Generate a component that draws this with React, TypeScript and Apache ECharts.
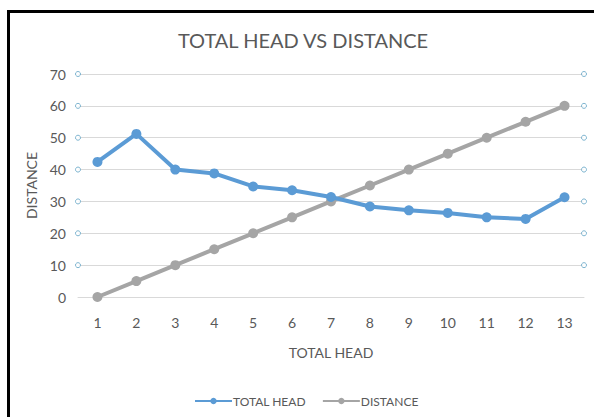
import React, { useEffect, useRef } from "react";
import * as echarts from "echarts";

const categories = ["1", "2", "3", "4", "5", "6", "7", "8", "9", "10", "11", "12", "13"];
const totalHead = [42.4, 51.2, 40.0, 38.8, 34.7, 33.5, 31.4, 28.4, 27.2, 26.4, 25.0, 24.5, 31.3];
const distance = [0, 5, 10, 15, 20, 25, 30, 35, 40, 45, 50, 55, 60];
const yTicks = [10, 20, 30, 40, 50, 60, 70];

const FONT = "Lato, 'Open Sans', sans-serif";
const TXT = "#595959";

export default function App() {
  const ref = useRef<HTMLDivElement>(null);
  useEffect(() => {
    if (!ref.current) return;
    const chart = echarts.init(ref.current, undefined, { renderer: "svg" });
    const endDots: number[][] = [];
    yTicks.forEach((v) => {
      endDots.push([0, v]);
      endDots.push([1, v]);
    });
    chart.setOption({
      animation: false,
      backgroundColor: "#ffffff",
      textStyle: { fontFamily: FONT },
      title: {
        text: "TOTAL HEAD VS DISTANCE",
        left: 298,
        textAlign: "center",
        top: 25,
        textStyle: { fontFamily: FONT, fontSize: 20, fontWeight: "normal", color: TXT },
      },
      legend: {
        left: 189,
        top: 390,
        itemWidth: 37,
        itemHeight: 8,
        itemGap: 16,
        data: ["TOTAL HEAD", "DISTANCE"],
        textStyle: { fontFamily: FONT, fontSize: 12, color: TXT, padding: [0, 0, 0, -4] },
      },
      grid: { left: 78, right: 10, top: 74, bottom: 120, containLabel: false },
      xAxis: [
        {
          type: "category",
          data: categories,
          boundaryGap: true,
          name: "TOTAL HEAD",
          nameLocation: "middle",
          nameGap: 48,
          nameTextStyle: { fontFamily: FONT, fontSize: 14, color: TXT },
          axisLine: { show: true, lineStyle: { color: "#D9D9D9", width: 1 } },
          axisTick: { show: false },
          axisLabel: { fontFamily: FONT, fontSize: 14, color: TXT, margin: 18 },
        },
        {
          type: "value",
          min: 0,
          max: 1,
          show: false,
        },
      ],
      yAxis: {
        type: "value",
        min: 0,
        max: 70,
        interval: 10,
        name: "DISTANCE",
        nameLocation: "middle",
        nameGap: 34,
        nameTextStyle: { fontFamily: FONT, fontSize: 14, color: TXT },
        axisLine: { show: false },
        axisTick: { show: false },
        axisLabel: { fontFamily: FONT, fontSize: 14, color: TXT, margin: 12 },
        splitLine: { lineStyle: { color: "#D9D9D9", width: 1 } },
      },
      series: [
        {
          name: "TOTAL HEAD",
          type: "line",
          data: totalHead,
          color: "#5B9BD5",
          lineStyle: { width: 4, color: "#5B9BD5" },
          itemStyle: { color: "#5B9BD5" },
          symbol: "circle",
          symbolSize: 10,
          z: 3,
        },
        {
          name: "DISTANCE",
          type: "line",
          data: distance,
          color: "#A5A5A5",
          lineStyle: { width: 4, color: "#A5A5A5" },
          itemStyle: { color: "#A5A5A5" },
          symbol: "circle",
          symbolSize: 10,
          z: 2,
        },
        {
          name: "ends",
          type: "scatter",
          xAxisIndex: 1,
          data: endDots,
          symbol: "circle",
          symbolSize: 5,
          itemStyle: { color: "#ffffff", borderColor: "#5FA3C4", borderWidth: 1 },
          silent: true,
          z: 4,
        },
      ],
    });
    return () => chart.dispose();
  }, []);

  return (
    <div style={{ position: "fixed", left: 0, top: 0, width: 594, height: 417, background: "#fff" }}>
      <div ref={ref} style={{ position: "absolute", left: 0, top: 0, width: 594, height: 417 }} />
      <div style={{ position: "absolute", left: 7, top: 10, width: 587, height: 3, background: "#000" }} />
      <div style={{ position: "absolute", left: 7, top: 10, width: 3, height: 407, background: "#000" }} />
    </div>
  );
}
